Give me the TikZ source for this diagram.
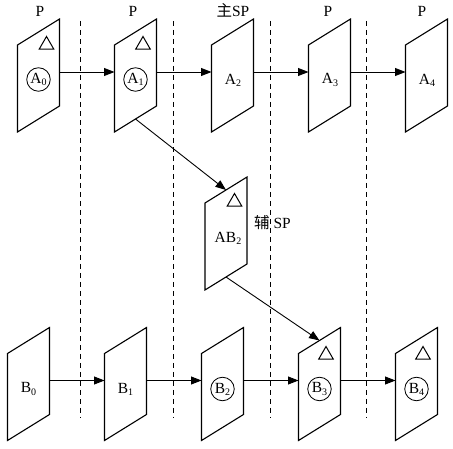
\documentclass[tikz,border=0pt]{standalone}
\usepackage{fontspec}
\setmainfont{Liberation Serif}
\newfontfamily\cjk{Noto Sans CJK SC}
\usetikzlibrary{arrows.meta,shapes.geometric,calc}
\tikzset{
  panelline/.style={line width=1.1pt, line join=miter},
  flow/.style={line width=0.9pt, -{Triangle[length=10.5pt,width=8pt]}},
  sep/.style={dash pattern=on 5pt off 4pt, line width=0.9pt},
  tri/.style={regular polygon, regular polygon sides=3, draw, line width=1pt, minimum size=17pt, inner sep=0pt},
  ring/.style={circle, draw, line width=0.8pt, minimum size=23.5pt, inner sep=0pt, font=\fontsize{15.5}{15.5}\selectfont},
  lab/.style={font=\fontsize{15.5}{15.5}\selectfont, inner sep=0pt},
  edgebox/.style={minimum width=42pt, minimum height=0pt, inner sep=0pt, outer sep=0pt}
}
\newcommand\lowsub[1]{\raisebox{-0.3ex}{\fontsize{10}{10}\selectfont #1}}
\newcommand\panel[3]{%
  \draw[panelline] (#2-21,#3-30.5) -- (#2-21,#3+56.5) -- (#2+21,#3+30.5) -- (#2+21,#3-56.5) -- cycle;
  \node[edgebox] (#1) at (#2,#3-3.5) {};
  \coordinate (#1-top) at (#2,#3-43.5);
  \coordinate (#1-bot) at (#2,#3+43.5);
}
\begin{document}
\begin{tikzpicture}[x=1pt,y=-1pt]
\useasboundingbox (0,0) rectangle (453,449);
% separators
\foreach \x in {80.7,173,270,366.7}{
  \draw[sep] (\x,21) -- (\x,418);
}
% top labels
\node[lab, anchor=base] (lA0) at (40,17) {P};
\node[lab, anchor=base] (lA1) at (133,17) {P};
\node[lab, anchor=base] (lA2) at (233,17) {{\cjk 主}SP};
\node[lab, anchor=base] (lA3) at (328,17) {P};
\node[lab, anchor=base] (lA4) at (422,17) {P};
% top row
\panel{A0}{38.5}{75.5}
\panel{A1}{135.5}{75.5}
\panel{A2}{232.5}{75.5}
\panel{A3}{329.5}{75.5}
\panel{A4}{426.5}{75.5}
\node[tri] (tA0) at (46.5,45) {};
\node[tri] (tA1) at (143,45) {};
\node[ring] (cA0) at (38.5,79.5) {A\lowsub{0}};
\node[ring] (cA1) at (135.5,79.5) {A\lowsub{1}};
\node[lab] (xA2) at (233,80) {A\lowsub{2}};
\node[lab] (xA3) at (330,80) {A\lowsub{3}};
\node[lab] (xA4) at (427,80) {A\lowsub{4}};
% middle
\panel{AB2}{226}{233.5}
\node[tri] (tAB2) at (234.5,202) {};
\node[lab] (xAB2) at (228,238) {AB\lowsub{2}};
\node[lab] (lAB2) at (272.5,223) {{\cjk 辅} SP};
% bottom row
\panel{B0}{28.5}{384}
\panel{B1}{125.5}{384}
\panel{B2}{222.5}{384}
\panel{B3}{319.5}{384}
\panel{B4}{416.5}{384}
\node[lab] (xB0) at (28.5,389) {B\lowsub{0}};
\node[lab] (xB1) at (125.5,389) {B\lowsub{1}};
\node[ring] (cB2) at (222.5,389) {B\lowsub{2}};
\node[ring] (cB3) at (319.5,389) {B\lowsub{3}};
\node[ring] (cB4) at (416.5,389) {B\lowsub{4}};
\node[tri] (tB3) at (326,355) {};
\node[tri] (tB4) at (423,355) {};
% connectors
\draw[flow] (A0) -- (A1);
\draw[flow] (A1) -- (A2);
\draw[flow] (A2) -- (A3);
\draw[flow] (A3) -- (A4);
\draw[flow] (B0) -- (B1);
\draw[flow] (B1) -- (B2);
\draw[flow] (B2) -- (B3);
\draw[flow] (B3) -- (B4);
\draw[flow] (A1-bot) -- (AB2-top);
\draw[flow] (AB2-bot) -- (B3-top);
\end{tikzpicture}
\end{document}
